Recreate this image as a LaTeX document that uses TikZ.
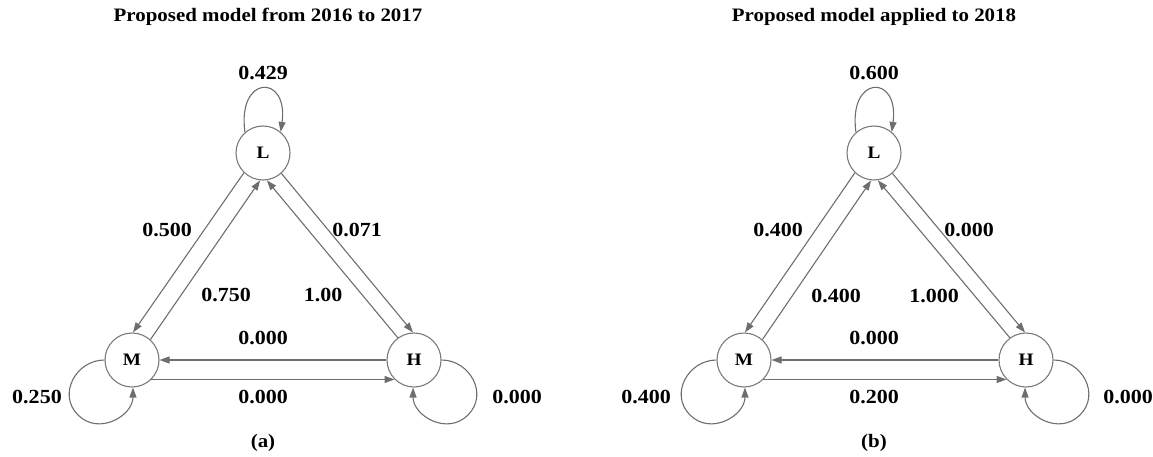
\documentclass[tikz,border=0pt]{standalone}
\usepackage{fontspec}
\setmainfont{Liberation Serif}[FakeStretch=1.1]
\usetikzlibrary{arrows.meta}
\definecolor{edgegray}{HTML}{6E6E6E}
\definecolor{circgray}{HTML}{7A7A7A}
\begin{document}
\begin{tikzpicture}[x=1pt,y=-1pt,
  state/.style={circle,draw=circgray,line width=1.1pt,minimum size=54pt,inner sep=0pt,
    font=\bfseries\fontsize{17.5}{18}\selectfont},
  trans/.style={draw=edgegray,line width=1.1pt,-{Triangle[length=10pt,width=7pt]},color=edgegray},
  lbl/.style={font=\bfseries\fontsize{20}{24}\selectfont,inner sep=0pt},
  ttl/.style={font=\bfseries\fontsize{19}{22}\selectfont,inner sep=0pt},
  sub/.style={font=\bfseries\fontsize{19}{22}\selectfont,inner sep=0pt}]
\path[use as bounding box] (0,0) rectangle (1153,457);

% ---------- (a) ----------
\node[ttl] (ta) at (268,17) {Proposed model from 2016 to 2017};
\node[state] (La) at (263,153) {L};
\node[state] (Ma) at (132,360) {M};
\node[state] (Ha) at (414,360) {H};
\coordinate (ma) at (78,415);
\coordinate (ha) at (468,415);
\draw[trans] (La.226) -- (Ma.88);
\draw[trans] (Ma.48) -- (La.264);
\draw[trans] (Ha.126) -- (La.278);
\draw[trans] (La.312) -- (Ha.92);
\draw[trans] (Ha.180) -- (Ma.0);
\draw[trans] (Ma.315) -- (Ha.225);
\draw[trans] (La.131) .. controls +(-8,-58) and +(8,-58) .. (La.50);
\draw[trans] (Ma.180) .. controls +(-28,0) and +(-21,-21) .. (ma)
                      .. controls +(21,21) and +(0,28) .. (Ma.272);
\draw[trans] (Ha.0) .. controls +(28,0) and +(21,-21) .. (ha)
                    .. controls +(-21,21) and +(0,28) .. (Ha.268);
\node[lbl] (a1) at (263,73) {0.429};
\node[lbl] (a2) at (167,230) {0.500};
\node[lbl] (a3) at (357,230) {0.071};
\node[lbl] (a4) at (226,295) {0.750};
\node[lbl] (a5) at (323,295) {1.00};
\node[lbl] (a6) at (263,338) {0.000};
\node[lbl] (a7) at (263,397) {0.000};
\node[lbl] (a8) at (37,397) {0.250};
\node[lbl] (a9) at (517,397) {0.000};
\node[sub] (sa) at (263,443) {(a)};

% ---------- (b) ----------
\node[ttl] (tb) at (874,17) {Proposed model applied to 2018};
\node[state] (Lb) at (874,153) {L};
\node[state] (Mb) at (744,360) {M};
\node[state] (Hb) at (1026,360) {H};
\coordinate (mb) at (690,415);
\coordinate (hb) at (1080,415);
\draw[trans] (Lb.226) -- (Mb.88);
\draw[trans] (Mb.48) -- (Lb.264);
\draw[trans] (Hb.126) -- (Lb.278);
\draw[trans] (Lb.312) -- (Hb.92);
\draw[trans] (Hb.180) -- (Mb.0);
\draw[trans] (Mb.315) -- (Hb.225);
\draw[trans] (Lb.131) .. controls +(-8,-58) and +(8,-58) .. (Lb.50);
\draw[trans] (Mb.180) .. controls +(-28,0) and +(-21,-21) .. (mb)
                      .. controls +(21,21) and +(0,28) .. (Mb.272);
\draw[trans] (Hb.0) .. controls +(28,0) and +(21,-21) .. (hb)
                    .. controls +(-21,21) and +(0,28) .. (Hb.268);
\node[lbl] (b1) at (874,73) {0.600};
\node[lbl] (b2) at (778,230) {0.400};
\node[lbl] (b3) at (969,230) {0.000};
\node[lbl] (b4) at (836,296) {0.400};
\node[lbl] (b5) at (934,296) {1.000};
\node[lbl] (b6) at (874,338) {0.000};
\node[lbl] (b7) at (874,397) {0.200};
\node[lbl] (b8) at (646,397) {0.400};
\node[lbl] (b9) at (1128,397) {0.000};
\node[sub] (sb) at (874,443) {(b)};
\end{tikzpicture}
\end{document}
